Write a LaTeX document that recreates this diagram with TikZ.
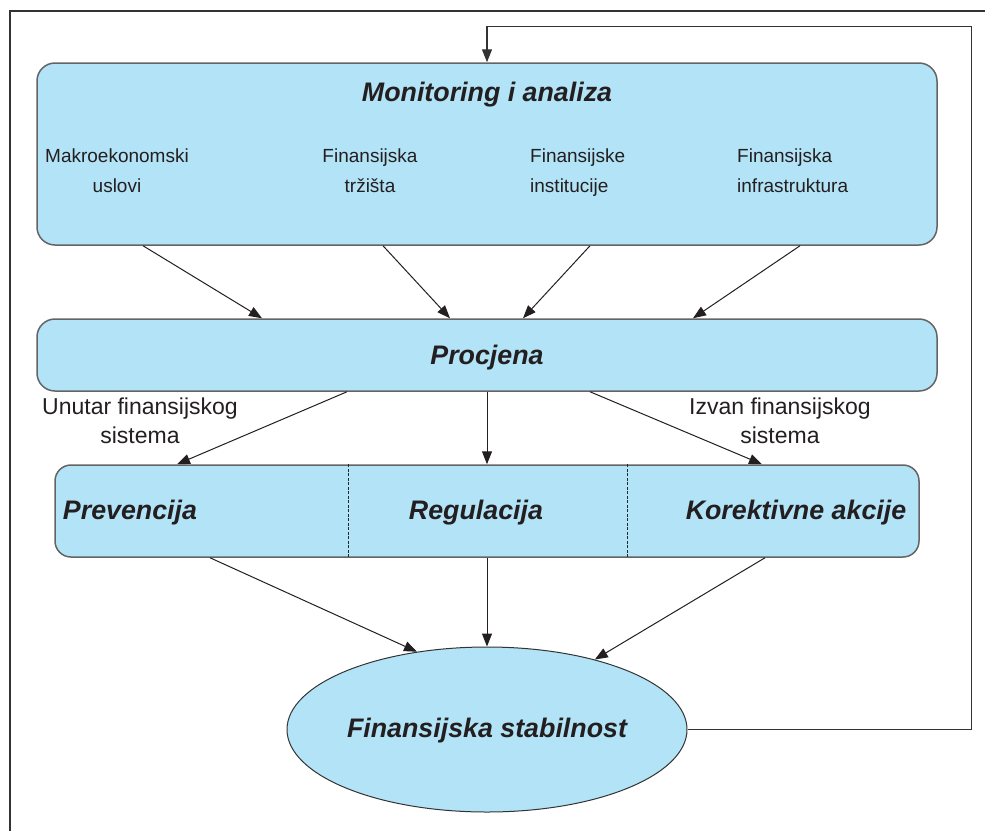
\documentclass[tikz,border=0pt]{standalone}
\usepackage{fontspec}
\setmainfont{Liberation Sans}
\usetikzlibrary{shapes.geometric,arrows.meta,calc}
\definecolor{boxfill}{RGB}{179,227,247}
\definecolor{txt}{RGB}{35,31,32}
\definecolor{edge}{RGB}{100,100,100}
\begin{document}
\begin{tikzpicture}[x=1pt,y=-1pt,
  panel/.style={draw=edge,line width=1.5pt,fill=boxfill,rounded corners=18pt,inner sep=0pt},
  oval/.style={ellipse,draw=black!80,line width=1pt,fill=boxfill,inner sep=0pt},
  heading/.style={font=\fontsize{26.8}{30}\selectfont\bfseries\itshape,text=txt,inner sep=0pt,anchor=base},
  sublabel/.style={font=\fontsize{19}{30}\selectfont,text=txt,inner sep=0pt},
  sidelabel/.style={font=\fontsize{23}{28.5}\selectfont,text=txt,inner sep=0pt,align=center},
  conn/.style={draw=txt,line width=1pt,-{Triangle[length=13pt,width=10pt]}},
  frameline/.style={draw=black!80,line width=1.3pt}
]
\useasboundingbox (0,0) rectangle (985,831);
\draw[frameline] (985,11) -- (10,11) -- (10,831);

% boxes
\node[panel,minimum width=900pt,minimum height=182pt] (mon) at (487,154) {};
\node[panel,minimum width=900pt,minimum height=72pt] (proc) at (487,355) {};
\node[panel,rounded corners=16pt,minimum width=864pt,minimum height=92pt] (mid) at (487,511) {};
\node[oval,minimum width=400pt,minimum height=165pt] (ell) at (487,729.5) {};

\draw[draw=black!85,line width=0.8pt,dash pattern=on 3pt off 1.5pt]
  ($(mid.north west)+(294,0)$) -- ($(mid.south west)+(294,0)$);
\draw[draw=black!85,line width=0.8pt,dash pattern=on 3pt off 1.5pt]
  ($(mid.north west)+(573,0)$) -- ($(mid.south west)+(573,0)$);

% texts
\node[heading] (tmon) at (487,101) {Monitoring i analiza};
\node[sublabel,align=center] (s1) at (117,171) {\strut Makroekonomski\\\strut uslovi};
\node[sublabel,align=center] (s2) at (370,171) {\strut Finansijska\\\strut tržišta};
\node[sublabel,align=left,anchor=west] (s3) at (530,171) {\strut Finansijske\\\strut institucije};
\node[sublabel,align=left,anchor=west] (s4) at (737,171) {\strut Finansijska\\\strut infrastruktura};
\node[heading] (tproc) at (487,364) {Procjena};
\node[sidelabel] (l1) at (140,423.5) {\strut Unutar finansijskog\\\strut sistema};
\node[sidelabel] (l2) at (780,423.5) {\strut Izvan finansijskog\\\strut sistema};
\node[heading] (tprev) at (130,519) {Prevencija};
\node[heading] (treg) at (476,519) {Regulacija};
\node[heading] (tkor) at (796,519) {Korektivne akcije};
\node[heading] (tell) at (487,737) {Finansijska stabilnost};

% connectors
\draw[conn] ($(mon.south)+(-344,0)$) -- ($(proc.north)+(-225,0)$);
\draw[conn] ($(mon.south)+(-104,0)$) -- ($(proc.north)+(-37,0)$);
\draw[conn] ($(mon.south)+(103,0)$) -- ($(proc.north)+(36,0)$);
\draw[conn] ($(mon.south)+(313,0)$) -- ($(proc.north)+(206,0)$);

\draw[conn] ($(proc.south)+(-140,0)$) -- ($(mid.north)+(-310,0)$);
\draw[conn] (proc.south) -- (mid.north);
\draw[conn] ($(proc.south)+(103,0)$) -- ($(mid.north)+(275,0)$);

\draw[conn] ($(mid.south)+(-277,0)$) -- (ell.132);
\draw[conn] (mid.south) -- (ell.north);
\draw[conn] ($(mid.south)+(278,0)$) -- (ell.33);

\draw[draw=black!80,line width=1.3pt,-{Triangle[length=13pt,width=10pt]}]
  (ell.east) -- ++(284,0) |- ($(mon.north)+(0,-36)$) -- (mon.north);
\end{tikzpicture}
\end{document}
